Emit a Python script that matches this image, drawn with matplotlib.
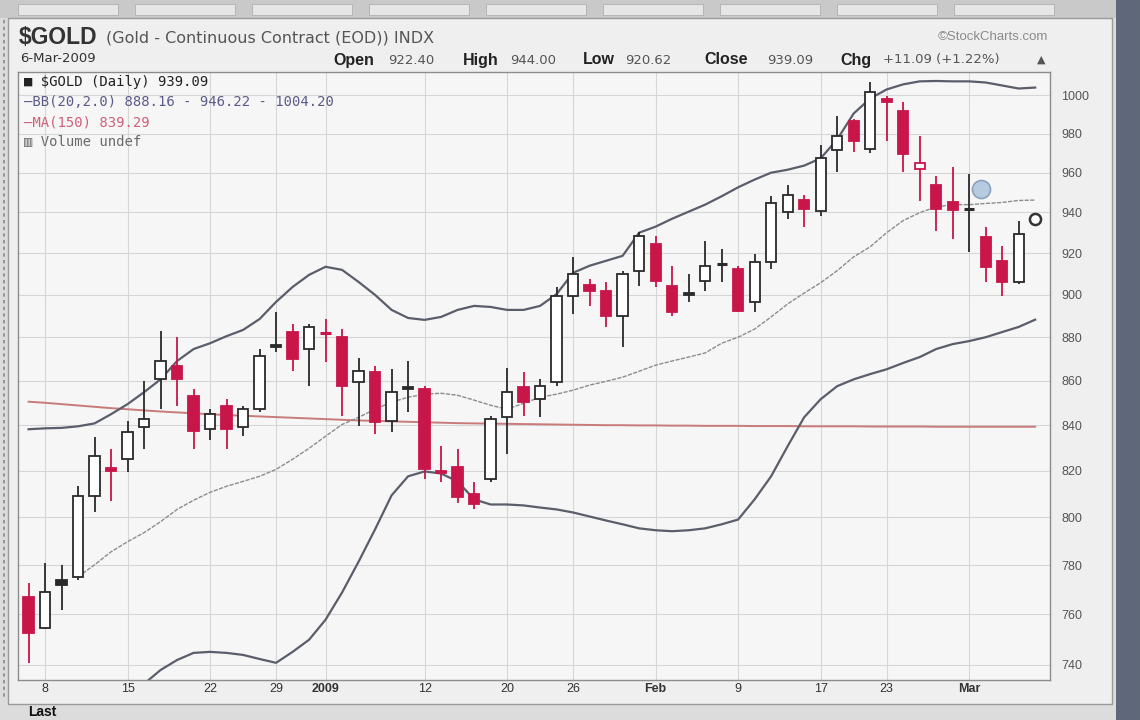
import matplotlib
matplotlib.use("Agg")
import matplotlib.pyplot as plt
from matplotlib.patches import Rectangle
from matplotlib.ticker import FixedLocator, FixedFormatter, NullLocator

plt.rcParams['font.family'] = ['Liberation Sans', 'DejaVu Sans']

# trading days shown on the chart (Dec 5 2008 .. Mar 6 2009)
dates = ['2008-12-05',
         '2008-12-08', '2008-12-09', '2008-12-10', '2008-12-11', '2008-12-12',
         '2008-12-15', '2008-12-16', '2008-12-17', '2008-12-18', '2008-12-19',
         '2008-12-22', '2008-12-23', '2008-12-24', '2008-12-26',
         '2008-12-29', '2008-12-30', '2008-12-31', '2009-01-02',
         '2009-01-05', '2009-01-06', '2009-01-07', '2009-01-08', '2009-01-09',
         '2009-01-12', '2009-01-13', '2009-01-14', '2009-01-15', '2009-01-16',
         '2009-01-20', '2009-01-21', '2009-01-22', '2009-01-23',
         '2009-01-26', '2009-01-27', '2009-01-28', '2009-01-29', '2009-01-30',
         '2009-02-02', '2009-02-03', '2009-02-04', '2009-02-05', '2009-02-06',
         '2009-02-09', '2009-02-10', '2009-02-11', '2009-02-12', '2009-02-13',
         '2009-02-17', '2009-02-18', '2009-02-19', '2009-02-20',
         '2009-02-23', '2009-02-24', '2009-02-25', '2009-02-26', '2009-02-27',
         '2009-03-02', '2009-03-03', '2009-03-04', '2009-03-05', '2009-03-06']

prior_close = 770.0  # Dec 4 close (off chart)

# daily OHLC, Dec 5 .. Mar 5
opens = [767.2, 754.7, 774.0, 775.3, 809.0, 821.0, 825.0, 839.0, 860.6, 866.6,
         853.0, 838.2, 848.5, 839.0, 847.1, 876.5, 882.4, 874.5, 882.0, 880.0,
         859.3, 863.9, 841.7, 857.0, 856.1, 820.0, 821.5, 809.8, 816.3, 843.5,
         857.0, 851.6, 859.3, 899.4, 904.7, 901.8, 889.9, 911.5, 924.6, 904.2,
         901.0, 906.6, 915.0, 912.4, 896.6, 915.8, 940.3, 946.0, 940.8, 971.4,
         986.4, 972.3, 998.0, 991.6, 962.1, 953.8, 945.0, 941.8, 928.0, 916.3,
         906.1]
highs = [772.9, 781.1, 780.2, 813.3, 834.7, 829.4, 841.7, 859.7, 882.9, 880.0,
         856.1, 847.0, 851.6, 848.5, 874.5, 891.8, 886.2, 886.2, 888.5, 883.8,
         870.4, 866.6, 865.2, 869.0, 857.5, 830.7, 829.4, 815.0, 844.0, 865.7,
         863.9, 860.6, 903.7, 918.2, 907.6, 906.1, 911.5, 930.5, 928.5, 913.9,
         910.0, 926.1, 922.1, 913.9, 919.7, 948.1, 953.8, 948.6, 974.0, 989.0,
         987.9, 1007.4, 999.5, 996.8, 979.0, 958.4, 963.1, 959.5, 933.0, 923.6,
         935.9]
lows = [740.8, 754.0, 761.9, 774.0, 802.1, 806.8, 819.3, 829.4, 847.1, 848.5,
        829.4, 833.5, 829.4, 835.1, 845.8, 873.1, 864.3, 857.5, 868.5, 844.0,
        839.5, 836.0, 836.9, 845.8, 816.3, 815.0, 806.3, 803.4, 815.0, 827.2,
        844.0, 843.5, 857.5, 890.9, 894.7, 884.8, 875.4, 904.2, 903.7, 889.9,
        896.6, 901.8, 906.1, 891.8, 891.8, 912.4, 936.9, 933.0, 938.4, 960.5,
        970.7, 970.0, 976.4, 960.5, 945.5, 930.9, 927.0, 920.6, 906.1, 899.4,
        905.2]
closes = [752.7, 769.2, 772.0, 809.0, 826.3, 820.0, 836.8, 842.6, 869.0, 860.6,
          837.3, 844.9, 838.2, 847.1, 871.3, 875.4, 869.9, 884.8, 881.5, 857.5,
          864.3, 841.3, 854.8, 856.1, 820.6, 819.0, 808.5, 805.5, 842.6, 854.8,
          850.3, 857.5, 899.4, 910.0, 901.8, 889.9, 910.0, 928.5, 906.6, 891.8,
          900.0, 913.9, 914.5, 892.3, 915.8, 944.5, 948.6, 941.9, 967.3, 979.0,
          976.4, 1002.1, 996.8, 969.7, 964.7, 941.9, 941.0, 942.0, 913.4, 906.1,
          929.5]
last_price = 937.0   # Mar 6 mark

# Bollinger bands (20, 2.0), Dec 5 .. Mar 6
bb_upper = [838.2, 838.6, 838.8, 839.5, 840.8, 844.9, 849.4, 854.8, 860.6, 869.0,
            874.5, 877.2, 880.5, 883.4, 888.5, 896.6, 903.7, 909.5, 913.4, 911.9,
            906.1, 899.9, 892.8, 889.0, 888.1, 889.5, 892.8, 894.7, 894.2, 892.8,
            892.8, 894.7, 900.3, 910.5, 913.9, 916.3, 918.7, 930.0, 933.0, 936.9,
            940.4, 943.9, 948.1, 952.6, 956.5, 960.0, 961.5, 963.6, 967.3, 977.0,
            990.5, 998.4, 1003.2, 1005.9, 1007.5, 1007.7, 1007.5, 1007.5, 1006.9, 1005.3,
            1003.7, 1004.2]
# middle band starts on Dec 10
bb_mid = [775.3, 780.2, 785.6, 789.8, 793.6, 798.2, 803.4, 807.3, 810.7, 813.3,
          815.4, 817.6, 820.6, 825.0, 829.8, 835.1, 840.3, 843.5, 847.1, 850.3,
          852.5, 853.9, 854.3, 853.4, 851.2, 848.9, 847.1, 849.8, 852.5, 853.9,
          855.7, 858.0, 859.7, 861.6, 864.3, 867.1, 869.0, 870.8, 872.7, 877.2,
          880.0, 883.8, 889.5, 895.6, 900.8, 905.7, 911.5, 918.2, 923.1, 930.0,
          936.0, 939.9, 942.8, 943.9, 943.9, 944.5, 945.0, 946.0, 946.2]
# lower band starts on Dec 16 (below the visible range at first)
bb_lower = [732.6, 738.0, 741.9, 744.7, 745.1, 744.7, 743.9, 742.3, 740.8, 745.1,
            749.9, 757.9, 768.9, 781.5, 795.0, 809.4, 817.6, 819.7, 818.8, 815.4,
            807.7, 805.5, 805.5, 805.1, 804.2, 803.4, 802.1, 800.4, 798.7, 797.1,
            795.4, 794.6, 794.2, 794.6, 795.4, 797.1, 799.1, 807.7, 817.6, 830.7,
            843.5, 851.6, 857.5, 860.6, 863.0, 865.2, 868.1, 870.8, 874.5, 876.8,
            878.2, 880.0, 882.4, 884.8, 888.2]
ma150 = [850.5, 850.0, 849.4, 848.8, 848.2, 847.6, 847.1, 846.6, 846.1, 845.7,
         845.3, 844.9, 844.5, 844.2, 843.9, 843.6, 843.3, 843.0, 842.7, 842.4,
         842.1, 841.9, 841.7, 841.5, 841.3, 841.1, 840.9, 840.8, 840.7, 840.6,
         840.5, 840.4, 840.3, 840.2, 840.1, 840.0, 840.0, 839.9, 839.9, 839.8,
         839.8, 839.7, 839.7, 839.7, 839.6, 839.6, 839.6, 839.5, 839.5, 839.5,
         839.5, 839.4, 839.4, 839.4, 839.4, 839.3, 839.3, 839.3, 839.3, 839.3,
         839.3, 839.3]

event_date = '2009-03-02'
event_offset = 0.7
event_price = 951.8

x_ticks = ['2008-12-08', '2008-12-15', '2008-12-22', '2008-12-29', '2009-01-02',
           '2009-01-12', '2009-01-20', '2009-01-26', '2009-02-02', '2009-02-09',
           '2009-02-17', '2009-02-23', '2009-03-02']
x_labels = ['8', '15', '22', '29', '2009', '12', '20', '26', 'Feb', '9', '17', '23', 'Mar']
bold_labels = ['2009', 'Feb', 'Mar']
y_ticks = [740, 760, 780, 800, 820, 840, 860, 880, 900, 920, 940, 960, 980, 1000]

W, H = 1140, 720
RED = '#c8164a'
BLK = '#2a2a2a'


def fx(x):
    return x / W


def fy(y):
    return 1 - y / H


fig = plt.figure(figsize=(W / 100, H / 100), dpi=100, facecolor='#dcdcdc')

# page decorations (behind the axes)
deco = dict(transform=fig.transFigure, zorder=-5)
fig.add_artist(Rectangle((0, fy(18)), 1, 18 / H, facecolor='#c9c9c9', edgecolor='none', **deco))
for k in range(9):
    fig.add_artist(Rectangle((fx(18 + k * 117), fy(15)), 100 / W, 11 / H,
                             facecolor='#e6e6e6', edgecolor='#b0b0b0', lw=0.6, **deco))
fig.add_artist(Rectangle((fx(8), fy(704)), 1104 / W, 686 / H,
                         facecolor='#efefef', edgecolor='#9a9a9a', lw=1.0, **deco))
fig.add_artist(Rectangle((fx(1116), 0), 24 / W, 1, facecolor='#5f6878', edgecolor='none', **deco))
fig.add_artist(plt.Line2D([fx(4), fx(4)], [fy(20), fy(700)], color='#8a8a8a', lw=1.2,
                          ls=(0, (2, 2)), **deco))

# header
fig.text(fx(19), fy(37), '$GOLD', fontsize=16.5, fontweight='bold', color='#333333', va='center')
fig.text(fx(106), fy(38), '(Gold - Continuous Contract (EOD)) INDX', fontsize=11.5,
         color='#555555', va='center', family='DejaVu Sans')
fig.text(fx(1048), fy(37), '\u00a9StockCharts.com', fontsize=9.5, color='#8a8a8a',
         va='center', ha='right')
fig.text(fx(20), fy(58), '6-Mar-2009', fontsize=9.5, color='#333333', va='center',
         family='DejaVu Sans')
hdr = [(333, 'Open', True), (388, '922.40', False), (463, 'High', True), (510, '944.00', False),
       (583, 'Low', True), (625, '920.62', False), (704, 'Close', True), (767, '939.09', False),
       (840, 'Chg', True), (883, '+11.09 (+1.22%)', False)]
for x, s, b in hdr:
    fig.text(fx(x), fy(60), s, fontsize=11.5 if b else 9.5, fontweight='bold' if b else 'normal',
             color='#222222' if b else '#555555', va='center',
             family='Liberation Sans' if b else 'DejaVu Sans')
fig.text(fx(1045), fy(60), '\u25b2', fontsize=8, color='#555555', va='center', ha='right',
         family='DejaVu Sans')

# price panel
ax = fig.add_axes([fx(18), fy(680), (1050 - 18) / W, (680 - 72) / H])
ax.set_facecolor('#f6f6f6')
ax.set_yscale('log')
ax.set_ylim(734.1, 1012.5)
ax.set_xlim(-1.64, 60.9)

pos = {d: i - 1 for i, d in enumerate(dates)}
xs = [pos[d] for d in dates]

ax.yaxis.set_major_locator(FixedLocator(y_ticks))
ax.yaxis.set_major_formatter(FixedFormatter([str(v) for v in y_ticks]))
ax.yaxis.set_minor_locator(NullLocator())
ax.yaxis.tick_right()
ax.tick_params(axis='y', length=0, pad=8, labelsize=9, labelcolor='#555555')

tick_pos = [pos[d] for d in x_ticks]
ax.set_xticks(tick_pos)
ax.set_xticklabels(x_labels)
ax.tick_params(axis='x', length=0, pad=2, labelsize=9, labelcolor='#333333')
for lab in ax.get_xticklabels():
    if lab.get_text() in bold_labels:
        lab.set_fontweight('bold')

ax.grid(True, color='#d6d6d6', lw=0.8)
ax.set_axisbelow(True)
for sp in ax.spines.values():
    sp.set_color('#8c8c8c')
    sp.set_linewidth(1.0)

# indicators
ax.plot(xs, ma150, color='#c97b7b', lw=1.4, zorder=2)
ax.plot(xs, bb_upper, color='#5a5e6a', lw=1.6, zorder=2)
ax.plot(xs[-len(bb_mid):], bb_mid, color='#8c8c8c', lw=1.0, ls=(0, (3, 1)), zorder=2)
ax.plot(xs[-len(bb_lower):], bb_lower, color='#5a5e6a', lw=1.6, zorder=2)

# candles: hollow if close > open, red if close < previous close
bw = 0.62
prev = prior_close
for i in range(len(opens)):
    x = xs[i]
    o, h, l, c = opens[i], highs[i], lows[i], closes[i]
    col = RED if c < prev else BLK
    ax.vlines(x, l, h, color=col, lw=1.3, zorder=3)
    lo, hi = min(o, c), max(o, c)
    if hi - lo < 0.6:
        ax.hlines((o + c) / 2, x - bw / 2, x + bw / 2, color=col, lw=2.2, zorder=4)
    else:
        face = col if c < o else 'white'
        ax.add_patch(Rectangle((x - bw / 2, lo), bw, hi - lo, facecolor=face,
                               edgecolor=col, lw=1.3, zorder=4))
    prev = c

ax.plot(xs[-1], last_price, 'o', ms=8, mfc='white', mec='#333333', mew=1.8, zorder=5)
ax.plot(pos[event_date] + event_offset, event_price, 'o', ms=13, mfc='#b7cbe0',
        mec='#8aa2bd', mew=1.2, zorder=5)

# legend block
leg = [(82, '\u25a0 $GOLD (Daily) 939.09', '#222222'),
       (102, '\u2014BB(20,2.0) 888.16 - 946.22 - 1004.20', '#5b5b8a'),
       (122, '\u2014MA(150) 839.29', '#d0607a'),
       (141, '\u25a5 Volume undef', '#6a6a6a')]
for y, s, c in leg:
    fig.text(fx(24), fy(y), s, fontsize=10, color=c, va='center', family='DejaVu Sans Mono')

fig.text(fx(28), fy(712), 'Last', fontsize=10, fontweight='bold', color='#111111', va='center')

fig.savefig('out.png', dpi=100, facecolor=fig.get_facecolor())
